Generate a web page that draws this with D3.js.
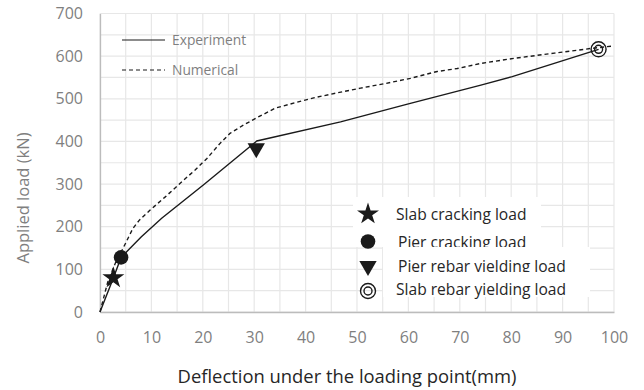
<!DOCTYPE html>
<html>
<head>
<meta charset="utf-8">
<script src="https://cdn.jsdelivr.net/npm/d3@7"></script>
<style>
  body { margin: 0; background: #fff; }
  svg { display: block; }
  text { font-family: "Open Sans", sans-serif; }
</style>
</head>
<body>
<svg id="chart" width="644" height="390"></svg>
<script>
// ---- data ----
const experimentX = [0, 2.6, 4.1, 8, 12, 20.1, 29.2, 30.5, 46.8, 60, 74.1, 80.2, 97];
const experimentY = [0, 80, 128, 176, 220, 298, 388, 401, 446, 488, 532, 552, 616];
const numericalX = [0, 1.5, 3, 4.8, 6.4, 7.7, 9.75, 12.7, 15.6, 18.5, 20.8, 23.4, 25.3, 28, 30.9, 34.1, 38, 41.9, 45.8, 50.7, 55.6, 60.4, 65.6, 69.5, 74.1, 80.6, 88.4, 95.5, 100];
const numericalY = [0, 70, 115, 157, 196, 216, 239, 270, 302, 333, 360, 396, 419, 439, 458, 478, 491, 503, 513, 525, 536, 548, 564, 571, 583, 595, 607, 618, 624];
const eventNames = ["Slab cracking load", "Pier cracking load", "Pier rebar yielding load", "Slab rebar yielding load"];
const eventX = [2.6, 4.1, 30.4, 97];
const eventY = [80, 128, 384, 616];
const seriesNames = ["Experiment", "Numerical"];
const xTicks = [0, 10, 20, 30, 40, 50, 60, 70, 80, 90, 100];
const yTicks = [0, 100, 200, 300, 400, 500, 600, 700];
const xGrid = d3.range(0, 101, 5);
const yGrid = d3.range(0, 701, 50);

// ---- layout ----
const svg = d3.select("#chart");
const L = 100, R = 614, T = 13.5, B = 312;
const x = d3.scaleLinear().domain([0, 100]).range([L, R]);
const y = d3.scaleLinear().domain([0, 700]).range([B, T]);

// grid
const grid = svg.append("g");
grid.selectAll("line.v").data(xGrid).join("line")
  .attr("x1", d => x(d)).attr("x2", d => x(d)).attr("y1", T).attr("y2", B)
  .attr("stroke", "#e7e7e7").attr("stroke-width", 1.2);
grid.selectAll("line.h").data(yGrid).join("line")
  .attr("x1", L).attr("x2", R).attr("y1", d => y(d)).attr("y2", d => y(d))
  .attr("stroke", "#e7e7e7").attr("stroke-width", 1.2);

// axes
const xAxis = svg.append("g").attr("transform", `translate(0,${B})`)
  .call(d3.axisBottom(x).tickValues(xTicks).tickSize(0).tickPadding(20));
const yAxis = svg.append("g").attr("transform", `translate(${L},0)`)
  .call(d3.axisLeft(y).tickValues(yTicks).tickSize(0).tickPadding(17));
[xAxis, yAxis].forEach(a => {
  a.select(".domain").attr("stroke", "#bcbcbc").attr("stroke-width", 1.3);
  a.selectAll("text").attr("fill", "#7f7f7f").style("font-size", "16px").style("font-family", "'Open Sans', sans-serif");
});

// lines
const lineGen = d3.line().x(d => x(d[0])).y(d => y(d[1]));
const expData = experimentX.map((v, i) => [v, experimentY[i]]);
const numData = numericalX.map((v, i) => [v, numericalY[i]]);
svg.append("path").datum(numData).attr("d", lineGen)
  .attr("fill", "none").attr("stroke", "#1a1a1a").attr("stroke-width", 1.4)
  .attr("stroke-dasharray", "4,3");
svg.append("path").datum(expData).attr("d", lineGen)
  .attr("fill", "none").attr("stroke", "#1a1a1a").attr("stroke-width", 1.4);

// markers
function drawMarker(g, i, cx, cy) {
  if (i === 0) {
    g.append("path").attr("d", d3.symbol().type(d3.symbolStar).size(150)())
      .attr("transform", `translate(${cx},${cy})`).attr("fill", "#1a1a1a");
  } else if (i === 1) {
    g.append("circle").attr("cx", cx).attr("cy", cy).attr("r", 7.3).attr("fill", "#1a1a1a");
  } else if (i === 2) {
    g.append("path").attr("d", d3.symbol().type(d3.symbolTriangle).size(130)())
      .attr("transform", `translate(${cx},${cy}) rotate(180)`).attr("fill", "#1a1a1a");
  } else {
    g.append("circle").attr("cx", cx).attr("cy", cy).attr("r", 7.5)
      .attr("fill", "none").attr("stroke", "#1a1a1a").attr("stroke-width", 1.4);
    g.append("circle").attr("cx", cx).attr("cy", cy).attr("r", 4)
      .attr("fill", "none").attr("stroke", "#1a1a1a").attr("stroke-width", 1.4);
  }
}
const mk = svg.append("g");
eventX.forEach((v, i) => drawMarker(mk, i, x(v), y(eventY[i])));

// series legend
const lg = svg.append("g");
seriesNames.forEach((n, i) => {
  const yy = 40 + i * 30;
  lg.append("line").attr("x1", 122).attr("x2", 165).attr("y1", yy).attr("y2", yy)
    .attr("stroke", "#1a1a1a").attr("stroke-width", 1.2)
    .attr("stroke-dasharray", i === 1 ? "4,3" : null);
  lg.append("text").attr("x", 172).attr("y", yy + 5).text(n)
    .attr("fill", "#7f7f7f").style("font-size", "13.8px");
});

// event legend (overlapping white text boxes)
const el = svg.append("g");
el.append("rect").attr("x", 353).attr("y", 197).attr("width", 188).attr("height", 50).attr("fill", "#fff");
const rowY = [214, 241.5, 266, 291];
const textY = [220, 247.5, 272, 295];
const boxTops = [null, null, 247, 272];
eventNames.forEach((n, i) => {
  if (boxTops[i] !== null) {
    el.append("rect").attr("x", 383).attr("y", boxTops[i]).attr("width", 207).attr("height", 25).attr("fill", "#fff");
  }
  drawMarker(el, i, 368, rowY[i]);
  el.append("text").attr("x", i === 0 || i === 3 ? 396 : 398).attr("y", textY[i]).text(n)
    .attr("fill", "#262626").style("font-size", "15.6px");
});

// axis titles
svg.append("text").attr("x", 347).attr("y", 383).attr("text-anchor", "middle")
  .text("Deflection under the loading point(mm)").attr("fill", "#262626").style("font-size", "18.4px");
svg.append("text").attr("transform", "translate(29,198) rotate(-90)").attr("text-anchor", "middle")
  .text("Applied load (kN)").attr("fill", "#7f7f7f").style("font-size", "16.5px");
</script>
</body>
</html>
